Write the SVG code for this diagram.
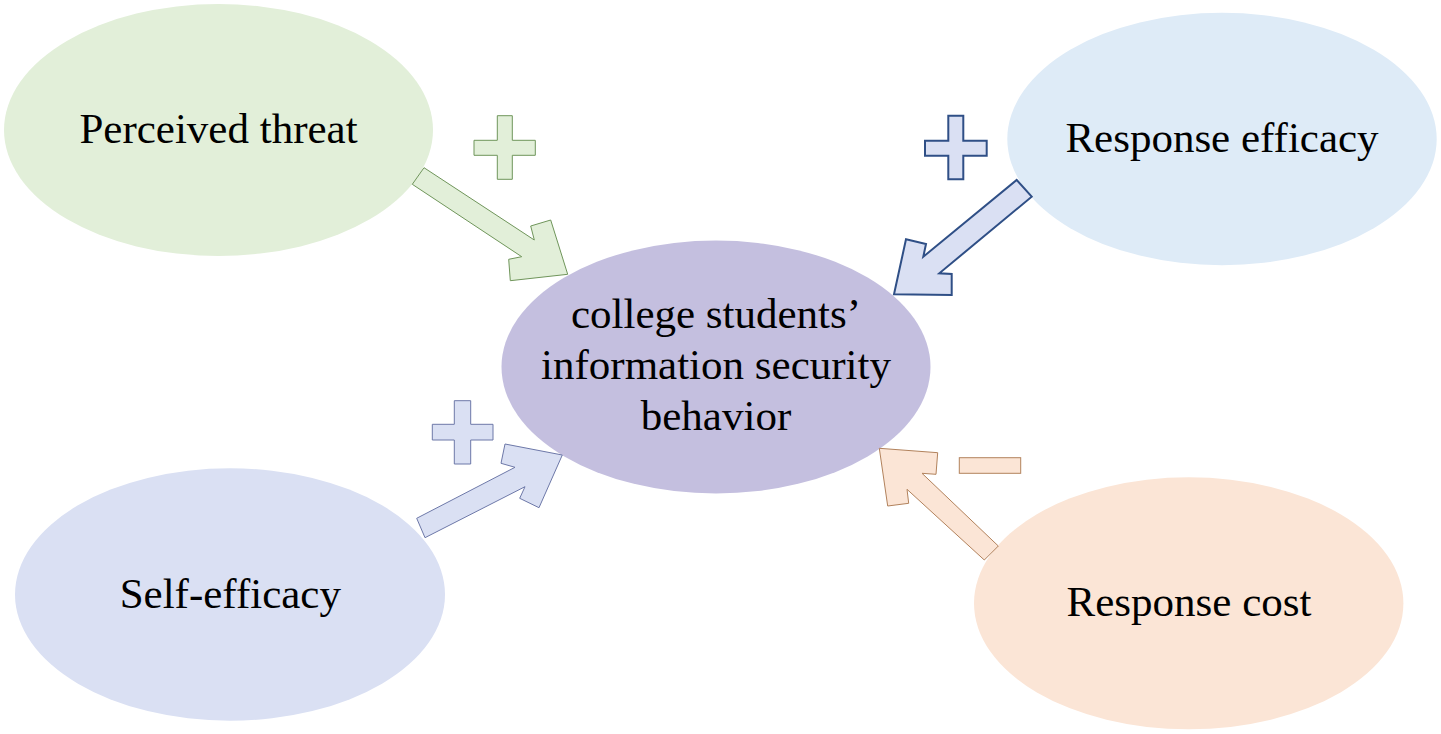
<svg xmlns="http://www.w3.org/2000/svg" width="1441" height="734" viewBox="0 0 1441 734">
<style>
text{font-family:"Liberation Serif","Times New Roman",serif;font-size:43px;fill:#000;text-anchor:middle}
.g{fill:#e2efd9;stroke:#6f955a;stroke-width:1}
.b{fill:#dae0f3;stroke:#2f4f86;stroke-width:2;stroke-linejoin:miter}
.s{fill:#dae0f3;stroke:#6d78a8;stroke-width:1}
.o{fill:#fbe5d6;stroke:#b2825c;stroke-width:1}
</style>
<rect width="1441" height="734" fill="#fff"/>
<g id="perceived-threat"><ellipse cx="218.5" cy="130" rx="214.5" ry="126" fill="#e2efd9"/><text x="218.5" y="143">Perceived threat</text></g>
<g id="response-efficacy"><ellipse cx="1222" cy="139" rx="214.7" ry="126.2" fill="#deebf7"/><text x="1222" y="152">Response efficacy</text></g>
<g id="self-efficacy"><ellipse cx="230" cy="594.5" rx="215" ry="126.2" fill="#dae0f3"/><text x="230.3" y="607.7">Self-efficacy</text></g>
<g id="response-cost"><ellipse cx="1188.7" cy="603.3" rx="214.7" ry="126" fill="#fbe5d6"/><text x="1189" y="616">Response cost</text></g>
<g id="behavior"><ellipse cx="716" cy="367" rx="214.5" ry="126.5" fill="#c4bfdf"/><text x="716" y="328.3">college students’</text><text x="716" y="378.8">information security</text><text x="716" y="430">behavior</text></g>
<g id="connectors">
<polygon class="g" points="412.3,184.3 424,167.7 534.3,240 530.7,226 550.7,220 567.7,274.3 510.3,280.7 508.7,259.3 521.7,256.7"/>
<polygon class="b" points="1016.7,180 1031.7,196.7 939.3,273.3 951.7,274 951.7,295 894,294.3 906,239.3 926,244 923.3,256.7"/>
<polygon class="s" points="425,537.7 416.7,518.3 515,467.3 501,463.3 505,444 562.3,455 539,507.7 519.7,498.3 525,486.7"/>
<polygon class="o" points="984.3,560 998.3,546 922,473.3 936,474.3 937.7,452.7 879.3,448.3 887.7,506 908.7,503.3 907,489.3"/>
</g>
<g id="signs">
<polygon class="g" points="497.3,115.7 512.3,115.7 512.3,140.3 535.3,140.3 535.3,155.3 512.3,155.3 512.3,179.3 497.3,179.3 497.3,155.3 474,155.3 474,140.3 497.3,140.3"/>
<polygon class="b" points="948.3,115.7 963.3,115.7 963.3,140.7 986.7,140.7 986.7,155.7 963.3,155.7 963.3,179.3 948.3,179.3 948.3,155.7 925,155.7 925,140.7 948.3,140.7"/>
<polygon class="s" points="454.3,400.7 470.7,400.7 470.7,424.3 493,424.3 493,440 470.7,440 470.7,464 454.3,464 454.3,440 432.3,440 432.3,424.3 454.3,424.3"/>
<rect class="o" x="959.3" y="457.7" width="61.4" height="15.6"/>
</g>
</svg>
